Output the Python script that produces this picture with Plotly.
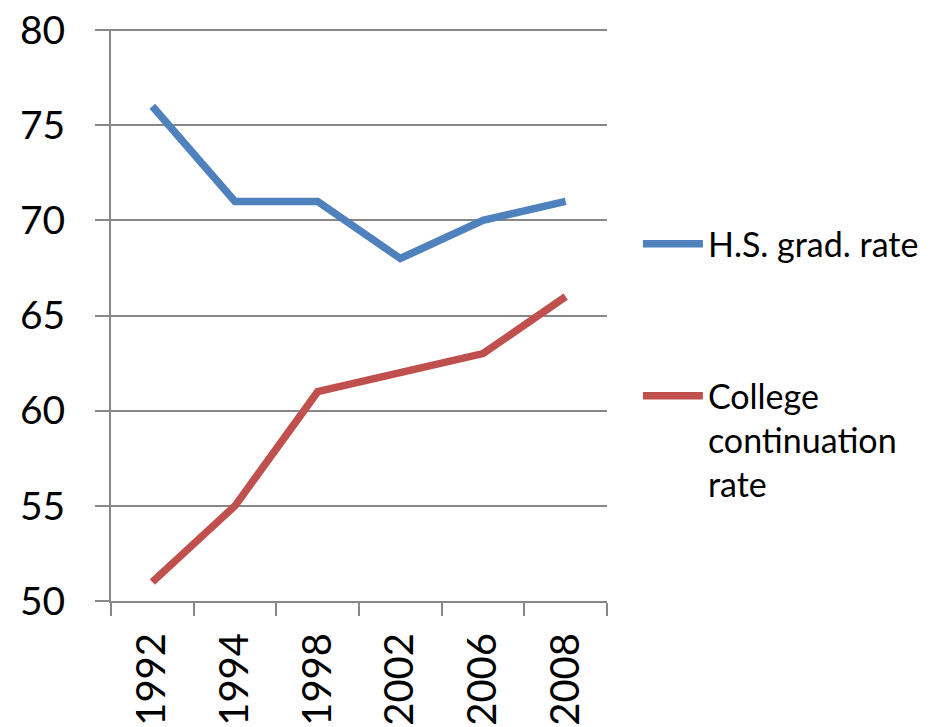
import plotly.graph_objects as go

years = ["1992", "1994", "1998", "2002", "2006", "2008"]
hs_grad = [76, 71, 71, 68, 70, 71]
college = [51, 55, 61, 62, 63, 66]
y_ticks = [50, 55, 60, 65, 70, 75, 80]

FONT = "Lato"
GRID = "#878787"
W, H = 934, 727

fig = go.Figure()
fig.add_trace(go.Scatter(x=years, y=hs_grad, mode="lines", name="H.S. grad. rate",
                         line=dict(color="#4F81BD", width=7.5), legend="legend"))
fig.add_trace(go.Scatter(x=years, y=college, mode="lines",
                         name="College<br>continuation<br>rate",
                         line=dict(color="#C0504D", width=7.5), legend="legend2"))

fig.update_layout(
    width=W, height=H,
    margin=dict(l=111, r=327, t=29, b=126, autoexpand=False),
    plot_bgcolor="white", paper_bgcolor="white",
    font=dict(family=FONT, color="black"),
    showlegend=True,
    legend=dict(x=0.683, y=0.664, xref="container", yref="container",
                xanchor="left", yanchor="middle", itemwidth=60,
                font=dict(size=34, family=FONT), bgcolor="rgba(0,0,0,0)",
                valign="top"),
    legend2=dict(x=0.683, y=0.495, xref="container", yref="container",
                 xanchor="left", yanchor="top", itemwidth=60,
                 font=dict(size=34, family=FONT), bgcolor="rgba(0,0,0,0)",
                 valign="top"),
)
fig.update_xaxes(
    type="category", range=[-0.5, 5.5], tickson="boundaries", ticks="outside",
    ticklen=13, tickwidth=2, tickcolor=GRID, showline=True, linecolor=GRID,
    linewidth=2, showgrid=False, tickangle=-90,
    tickfont=dict(size=40, family=FONT), ticklabelstandoff=14, automargin=False,
)
fig.update_yaxes(
    range=[50, 80.06], tickvals=y_ticks, ticks="outside", ticklen=14, tickwidth=2,
    tickcolor=GRID, showline=True, linecolor=GRID, linewidth=2,
    showgrid=True, gridcolor=GRID, gridwidth=2, zeroline=False,
    tickfont=dict(size=39, family=FONT), ticklabelstandoff=22,
    ticklabeloverflow="allow", automargin=False,
)

fig.write_html("out.html", config={"displayModeBar": False},
               post_script="document.body.style.margin='0';")
